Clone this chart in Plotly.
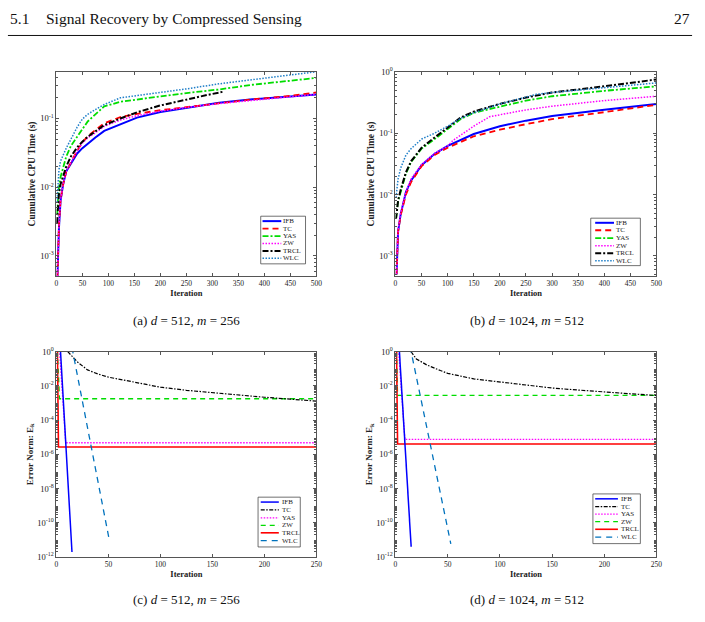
import plotly.graph_objects as go

W, H = 705, 622
FONT = "Liberation Serif"

# ---------------- data ----------------
methods_top = ["IFB", "TC", "YAS", "ZW", "TRCL", "WLC"]
methods_bot = ["IFB", "TC", "YAS", "ZW", "TRCL", "WLC"]

# (a) d=512, m=256 : cumulative CPU time
a_x = [2, 3, 5, 8, 13, 19, 28, 40, 50, 60, 75, 92, 123, 155, 200, 250, 313, 377, 440, 500]
a_IFB = [5e-4, 1e-3, 0.0026, 0.0063, 0.011, 0.017, 0.022, 0.031, 0.037, 0.043, 0.053, 0.066, 0.083, 0.103, 0.124, 0.144, 0.17, 0.19, 0.206, 0.223]
a_TC = [5e-4, 1e-3, 0.0028, 0.0065, 0.011, 0.017, 0.023, 0.034, 0.045, 0.055, 0.068, 0.085, 0.105, 0.117, 0.132, 0.146, 0.168, 0.19, 0.21, 0.24]
a_ZW = [5e-4, 1e-3, 0.0027, 0.0064, 0.011, 0.017, 0.023, 0.034, 0.044, 0.052, 0.062, 0.077, 0.095, 0.11, 0.128, 0.145, 0.165, 0.185, 0.205, 0.225]
a_x2 = [1, 3, 5, 8, 13, 19, 28, 40, 50, 60, 75, 92, 123, 155, 200, 250, 313, 377, 440, 500]
a_YAS = [0.004, 0.007, 0.010, 0.014, 0.02, 0.028, 0.04, 0.055, 0.07, 0.09, 0.115, 0.15, 0.175, 0.19, 0.21, 0.235, 0.265, 0.31, 0.35, 0.39]
a_WLC = [0.006, 0.012, 0.018, 0.024, 0.03, 0.037, 0.05, 0.075, 0.098, 0.115, 0.135, 0.16, 0.2, 0.215, 0.24, 0.27, 0.32, 0.37, 0.42, 0.48]
a_x3 = [1, 3, 5, 8, 13, 19, 28, 40, 50, 60, 75, 92, 123, 155, 200, 250, 290, 320]
a_TRCL = [0.003, 0.006, 0.008, 0.011, 0.015, 0.02, 0.028, 0.038, 0.046, 0.054, 0.065, 0.08, 0.1, 0.123, 0.155, 0.19, 0.22, 0.245]

# (b) d=1024, m=512 : cumulative CPU time
b_x = [2, 3, 5, 10, 20, 30, 50, 75, 100, 150, 200, 250, 300, 400, 500]
b_IFB = [5e-4, 0.001, 0.0025, 0.0048, 0.011, 0.017, 0.030, 0.046, 0.062, 0.097, 0.13, 0.16, 0.19, 0.24, 0.30]
b_TC = [5e-4, 0.001, 0.0025, 0.0046, 0.010, 0.016, 0.029, 0.044, 0.058, 0.089, 0.114, 0.14, 0.17, 0.22, 0.29]
b_xz = [2, 3, 5, 10, 20, 30, 50, 75, 100, 110, 150, 180, 200, 250, 300, 400, 500]
b_ZW = [5e-4, 0.001, 0.0026, 0.005, 0.011, 0.018, 0.031, 0.047, 0.062, 0.076, 0.13, 0.185, 0.2, 0.24, 0.275, 0.34, 0.40]
b_x2 = [1, 3, 5, 10, 20, 30, 50, 75, 100, 125, 150, 200, 250, 300, 400, 500]
b_YAS = [0.004, 0.006, 0.008, 0.011, 0.022, 0.034, 0.056, 0.08, 0.117, 0.17, 0.215, 0.27, 0.34, 0.40, 0.49, 0.58]
b_TRCL = [0.004, 0.006, 0.008, 0.012, 0.023, 0.035, 0.058, 0.085, 0.125, 0.18, 0.225, 0.30, 0.38, 0.46, 0.58, 0.75]
b_xw = [1, 3, 5, 10, 20, 30, 50, 75, 100, 125, 150, 200, 250, 270, 300, 400, 500]
b_WLC = [0.009, 0.014, 0.018, 0.027, 0.044, 0.056, 0.08, 0.1, 0.13, 0.175, 0.215, 0.3, 0.39, 0.43, 0.46, 0.55, 0.66]

# (c) d=512, m=256 : error norm
c_IFB_x, c_IFB = [1, 4, 15], [30, 1, 2e-12]
c_TC_x = [8, 11, 15, 20, 30, 40, 50, 75, 100, 125, 150, 175, 200, 225, 250]
c_TC = [3, 1, 0.56, 0.26, 0.087, 0.05, 0.033, 0.016, 0.0085, 0.0056, 0.004, 0.003, 0.0022, 0.0017, 0.0013]
c_YAS_x, c_YAS = [3, 9, 250], [1.2, 4.8e-6, 4.8e-6]
c_ZW_x, c_ZW = [1, 3, 250], [1.2, 1.8e-3, 1.8e-3]
c_TRCL_x, c_TRCL = [1, 2, 250], [1.2, 2.7e-6, 2.7e-6]
c_WLC_x, c_WLC = [15, 51], [1.8, 9e-12]

# (d) d=1024, m=512 : error norm
d_IFB_x, d_IFB = [3, 15], [6, 4e-12]
d_TC_x = [12, 15, 20, 30, 43, 50, 75, 100, 125, 150, 175, 200, 225, 250]
d_TC = [3, 1, 0.38, 0.17, 0.08, 0.055, 0.026, 0.017, 0.011, 0.0076, 0.0058, 0.0044, 0.0035, 0.0028]
d_YAS_x, d_YAS = [3, 9, 250], [1.2, 7.6e-6, 7.6e-6]
d_ZW_x, d_ZW = [1, 2, 250], [1.2, 2.8e-3, 2.8e-3]
d_TRCL_x, d_TRCL = [1, 2, 250], [1.2, 4.1e-6, 4.1e-6]
d_WLC_x, d_WLC = [14, 53], [2, 6e-12]

captions = ["(a) <i>d</i> = 512, <i>m</i> = 256", "(b) <i>d</i> = 1024, <i>m</i> = 512",
            "(c) <i>d</i> = 512, <i>m</i> = 256", "(d) <i>d</i> = 1024, <i>m</i> = 512"]

# ---------------- styles ----------------
top_style = {
    "IFB": dict(color="#0000FF", width=2.0, dash="solid"),
    "TC": dict(color="#FF0000", width=1.8, dash="6px,4px"),
    "YAS": dict(color="#00DD00", width=1.8, dash="6px,2px,2px,2px"),
    "ZW": dict(color="#FF00FF", width=1.5, dash="1.5px,1.5px"),
    "TRCL": dict(color="#000000", width=2.0, dash="6px,2px,2px,2px"),
    "WLC": dict(color="#1F7FC8", width=1.5, dash="1.5px,1.5px"),
}
bot_style = {
    "IFB": dict(color="#0000FF", width=1.5, dash="solid"),
    "TC": dict(color="#000000", width=1.2, dash="4px,1.5px,1.5px,1.5px"),
    "YAS": dict(color="#FF00FF", width=1.3, dash="1.5px,1.5px"),
    "ZW": dict(color="#00DD00", width=1.3, dash="5px,4px"),
    "TRCL": dict(color="#FF0000", width=1.6, dash="solid"),
    "WLC": dict(color="#0072BD", width=1.3, dash="6px,5px"),
}

# panel boxes in pixels: left, right, top, bottom
panels = {
    1: (55, 318, 67, 275),
    2: (398, 662, 67, 275),
    3: (55, 318, 352, 561),
    4: (398, 662, 352, 561),
}

def fx(p):
    return p / W

def fy(p):
    return 1 - p / H

fig = go.Figure()

def add(xs, ys, name, style, k):
    fig.add_trace(go.Scatter(x=xs, y=ys, mode="lines", name=name, line=style,
                             xaxis="x" + ("" if k == 1 else str(k)),
                             yaxis="y" + ("" if k == 1 else str(k)),
                             showlegend=False, hoverinfo="x+y+name"))

# panel a
add(a_x, a_IFB, "IFB", top_style["IFB"], 1)
add(a_x, a_TC, "TC", top_style["TC"], 1)
add(a_x2, a_YAS, "YAS", top_style["YAS"], 1)
add(a_x, a_ZW, "ZW", top_style["ZW"], 1)
add(a_x3, a_TRCL, "TRCL", top_style["TRCL"], 1)
add(a_x2, a_WLC, "WLC", top_style["WLC"], 1)
# panel b
add(b_x, b_IFB, "IFB", top_style["IFB"], 2)
add(b_x, b_TC, "TC", top_style["TC"], 2)
add(b_x2, b_YAS, "YAS", top_style["YAS"], 2)
add(b_xz, b_ZW, "ZW", top_style["ZW"], 2)
add(b_x2, b_TRCL, "TRCL", top_style["TRCL"], 2)
add(b_xw, b_WLC, "WLC", top_style["WLC"], 2)
# panel c
add(c_ZW_x, c_ZW, "ZW", bot_style["ZW"], 3)
add(c_TC_x, c_TC, "TC", bot_style["TC"], 3)
add(c_YAS_x, c_YAS, "YAS", bot_style["YAS"], 3)
add(c_TRCL_x, c_TRCL, "TRCL", bot_style["TRCL"], 3)
add(c_WLC_x, c_WLC, "WLC", bot_style["WLC"], 3)
add(c_IFB_x, c_IFB, "IFB", bot_style["IFB"], 3)
# panel d
add(d_ZW_x, d_ZW, "ZW", bot_style["ZW"], 4)
add(d_TC_x, d_TC, "TC", bot_style["TC"], 4)
add(d_YAS_x, d_YAS, "YAS", bot_style["YAS"], 4)
add(d_TRCL_x, d_TRCL, "TRCL", bot_style["TRCL"], 4)
add(d_WLC_x, d_WLC, "WLC", bot_style["WLC"], 4)
add(d_IFB_x, d_IFB, "IFB", bot_style["IFB"], 4)

AX = "#555555"
xtickfont = dict(family=FONT, size=7.5, color="#222222")
ytickfont = dict(family=FONT, size=8.5, color="#222222")
xtitlefont = dict(family=FONT, size=8.5, color="#222222")

def decade_ticks(lo, hi, step):
    vals = [10.0 ** e for e in range(lo, hi + 1, step)]
    txt = ["10<sup>%d</sup>" % e for e in range(lo, hi + 1, step)]
    return vals, txt

def minor_vals(lo, hi):
    return [m * 10.0 ** e for e in range(lo, hi) for m in range(2, 10)]

yranges = {1: [-3.296, -0.32], 2: [-3.33, 0], 3: [-12, 0], 4: [-12, 0]}
xranges = {1: [0, 500], 2: [0, 500], 3: [0, 250], 4: [0, 250]}
ytitles = {1: "<b>Cumulative CPU Time (s)</b>", 2: "<b>Cumulative CPU Time (s)</b>",
           3: "<b>Error Norm: E<sub>k</sub></b>", 4: "<b>Error Norm: E<sub>k</sub></b>"}
ytitle_size = {1: 9.5, 2: 9.5, 3: 9, 4: 9}

layout = dict(width=W, height=H, margin=dict(l=0, r=0, t=0, b=0),
              paper_bgcolor="white", plot_bgcolor="white", showlegend=False,
              font=dict(family=FONT))
for k, (L, R, T, B) in panels.items():
    sfx = "" if k == 1 else str(k)
    if k in (1, 2):
        tv, tt = decade_ticks(-3, 0, 1)
        mv = minor_vals(-4, 0)
    else:
        tv, tt = decade_ticks(-12, 0, 2)
        mv = minor_vals(-12, 0)
    layout["xaxis" + sfx] = dict(
        domain=[fx(L), fx(R)], range=xranges[k], anchor="y" + sfx,
        showline=True, linecolor=AX, linewidth=1, mirror="ticks",
        ticks="inside", ticklen=3, tickcolor=AX, dtick=50, tick0=0,
        showgrid=False, zeroline=False, tickfont=xtickfont,
        title=dict(text="<b>Iteration</b>", font=xtitlefont, standoff=2),
    )
    layout["yaxis" + sfx] = dict(
        domain=[fy(B), fy(T)], type="log", range=yranges[k], anchor="x" + sfx,
        showline=True, linecolor=AX, linewidth=1, mirror="ticks",
        ticks="inside", ticklen=3, tickcolor=AX, tickmode="array",
        tickvals=tv, ticktext=tt, showgrid=False, zeroline=False, tickfont=ytickfont,
        minor=dict(ticks="inside", ticklen=2, tickcolor=AX, tickmode="array",
                   tickvals=mv, showgrid=False),
        title=dict(text=ytitles[k], font=dict(family=FONT, size=ytitle_size[k], color="#222222"),
                   standoff=2),
    )
fig.update_layout(**layout)

shapes = []
annotations = []

# custom compact legends (pixel geometry per panel)
legend_geo = {
    1: dict(box=(261.7, 307.0, 214.0, 262.5), lx=(263.5, 282.5), tx=283.5,
            ys=[219, 226.7, 234.3, 241.7, 249.3, 256.7]),
    2: dict(box=(595.5, 645.7, 216.0, 264.3), lx=(600, 619), tx=620,
            ys=[220.7, 228.3, 236.3, 244, 251.7, 259.3]),
    3: dict(box=(259.0, 301.7, 500.0, 550.7), lx=(261.7, 280), tx=281.7,
            ys=[505, 513, 521, 528.7, 536.3, 544.3]),
    4: dict(box=(597.7, 645.7, 496.7, 547.3), lx=(600, 623), tx=625,
            ys=[501.7, 509.7, 517.3, 525, 532.7, 540.7]),
}
for k, g in legend_geo.items():
    x0, x1, y0, y1 = g["box"]
    shapes.append(dict(type="rect", xref="paper", yref="paper", x0=fx(x0), x1=fx(x1),
                       y0=fy(y1), y1=fy(y0), line=dict(color="#333333", width=0.7),
                       fillcolor="white", layer="above"))
    names = methods_top if k in (1, 2) else methods_bot
    sty = top_style if k in (1, 2) else bot_style
    for name, yy in zip(names, g["ys"]):
        s = sty[name]
        shapes.append(dict(type="line", xref="paper", yref="paper",
                           x0=fx(g["lx"][0]), x1=fx(g["lx"][1]), y0=fy(yy), y1=fy(yy),
                           line=dict(color=s["color"], width=s["width"], dash=s["dash"]),
                           layer="above"))
        annotations.append(dict(text=name, xref="paper", yref="paper", x=fx(g["tx"]), y=fy(yy),
                                xanchor="left", yanchor="middle", showarrow=False, borderpad=0,
                                font=dict(family=FONT, size=7, color="#222222")))

# page header
annotations.append(dict(text="5.1", xref="paper", yref="paper", x=fx(6), y=fy(12.5),
                        xanchor="left", yanchor="middle", showarrow=False,
                        font=dict(family=FONT, size=15.5, color="#111111")))
annotations.append(dict(text="Signal Recovery by Compressed Sensing", xref="paper", yref="paper",
                        x=fx(42), y=fy(12.5), xanchor="left", yanchor="middle", showarrow=False,
                        font=dict(family=FONT, size=15.5, color="#111111")))
annotations.append(dict(text="27", xref="paper", yref="paper", x=fx(698), y=fy(12.5),
                        xanchor="right", yanchor="middle", showarrow=False,
                        font=dict(family=FONT, size=15.5, color="#111111")))
shapes.append(dict(type="line", xref="paper", yref="paper", x0=fx(6), x1=fx(698),
                   y0=fy(30), y1=fy(30), line=dict(color="#111111", width=1)))

# captions
cap_pos = [(187, 320), (531, 320), (187, 604), (531, 604)]
for txt, (cx, cy) in zip(captions, cap_pos):
    annotations.append(dict(text=txt, xref="paper", yref="paper", x=fx(cx), y=fy(cy),
                            xanchor="center", yanchor="middle", showarrow=False,
                            font=dict(family=FONT, size=13, color="#111111")))

fig.update_layout(shapes=shapes, annotations=annotations)
fig.write_html("out.html")
